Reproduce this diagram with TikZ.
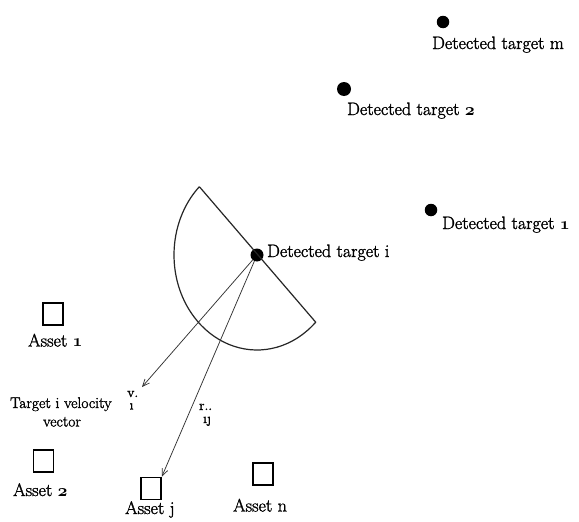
\documentclass[tikz,border=0pt]{standalone}
\usepackage{fontspec}
\usetikzlibrary{arrows.meta}
% labels: Latin Modern, slightly emboldened
\newfontfamily\lblfam{Latin Modern Roman}[FakeBold=1.6]
\newcommand{\lblfont}{\lblfam\fontsize{18}{21}\selectfont}
\newcommand{\midfont}{\lblfam\fontsize{15.5}{18}\selectfont}
\newcommand{\subfont}{\lblfam\fontsize{14}{16}\selectfont}
% old-style figures taken from the bold math italic font
\newcommand{\osn}[1]{{\fontencoding{OML}\fontfamily{cmm}\fontseries{b}\fontshape{it}\selectfont #1}}
\begin{document}
\begin{tikzpicture}[x=1pt,y=1pt,
  lbl/.style={font=\lblfont, inner sep=0pt, anchor=base west},
  sublbl/.style={font=\subfont, inner sep=0pt, anchor=base west},
  target/.style={circle, fill=black, inner sep=0pt, minimum size=#1},
  target/.default=12.5pt,
  asset/.style={draw=black, line width=1.6pt, inner sep=0pt, minimum width=20pt, minimum height=22pt},
  vec/.style={draw=black!80, line width=0.75pt, -{Straight Barb[length=7pt,width=6pt,line width=0.75pt]}},
  fov/.style={draw=black!85, line width=1.2pt}]
\path[use as bounding box, fill=white] (0,0) rectangle (579,-522);

% detected targets
\node[target] (tm) at (443,-22) {};
\node[target=14pt] (t2) at (344,-89) {};
\node[target] (t1) at (431,-210) {};
\node[target=13pt] (ti) at (257,-255) {};

\node[lbl] (ltm) at (432,-49) {Detected target m};
\node[lbl] (lt2) at (347,-115) {Detected target \osn{2}};
\node[lbl] (lt1) at (442,-229) {Detected target \osn{1}};
\node[lbl] (lti) at (267,-257) {Detected target i};

% field of view of target i: half ellipse bounded by a straight edge
\draw[fov] (ti.center) ++(134:83 and 95) coordinate (fovtop)
  arc[start angle=134, end angle=315, x radius=83, y radius=95] coordinate (fovbot)
  -- (fovtop);

% assets
\node[asset] (a1) at (53,-314) {};
\node[asset] (a2) at (43.5,-461) {};
\node[asset] (aj) at (151,-488.5) {};
\node[asset] (an) at (263,-474) {};

\node[lbl] (la1) at (28,-346.5) {Asset \osn{1}};
\node[lbl] (la2) at (13,-496) {Asset \osn{2}};
\node[lbl] (laj) at (125,-514) {Asset j};
\node[lbl] (lan) at (233,-511.5) {Asset n};

% velocity vector and range vector of target i
\coordinate (vtip) at (142,-387);
\draw[vec] (ti) -- (vtip);
\draw[vec] (ti) -- (aj.north east);

\node[lbl, font=\midfont] (lv1) at (10,-408) {Target i velocity};
\node[lbl, font=\midfont, anchor=base] (lv2) at (62,-426.5) {vector};

\node[sublbl] (vsym) at (127,-397) {v.};
\node[sublbl] (vsub) at (129.5,-409.5) {\i};
\node[sublbl] (rsym) at (199,-410) {r..};
\node[sublbl] (rsub) at (203,-423) {\i\j};
\end{tikzpicture}
\end{document}
